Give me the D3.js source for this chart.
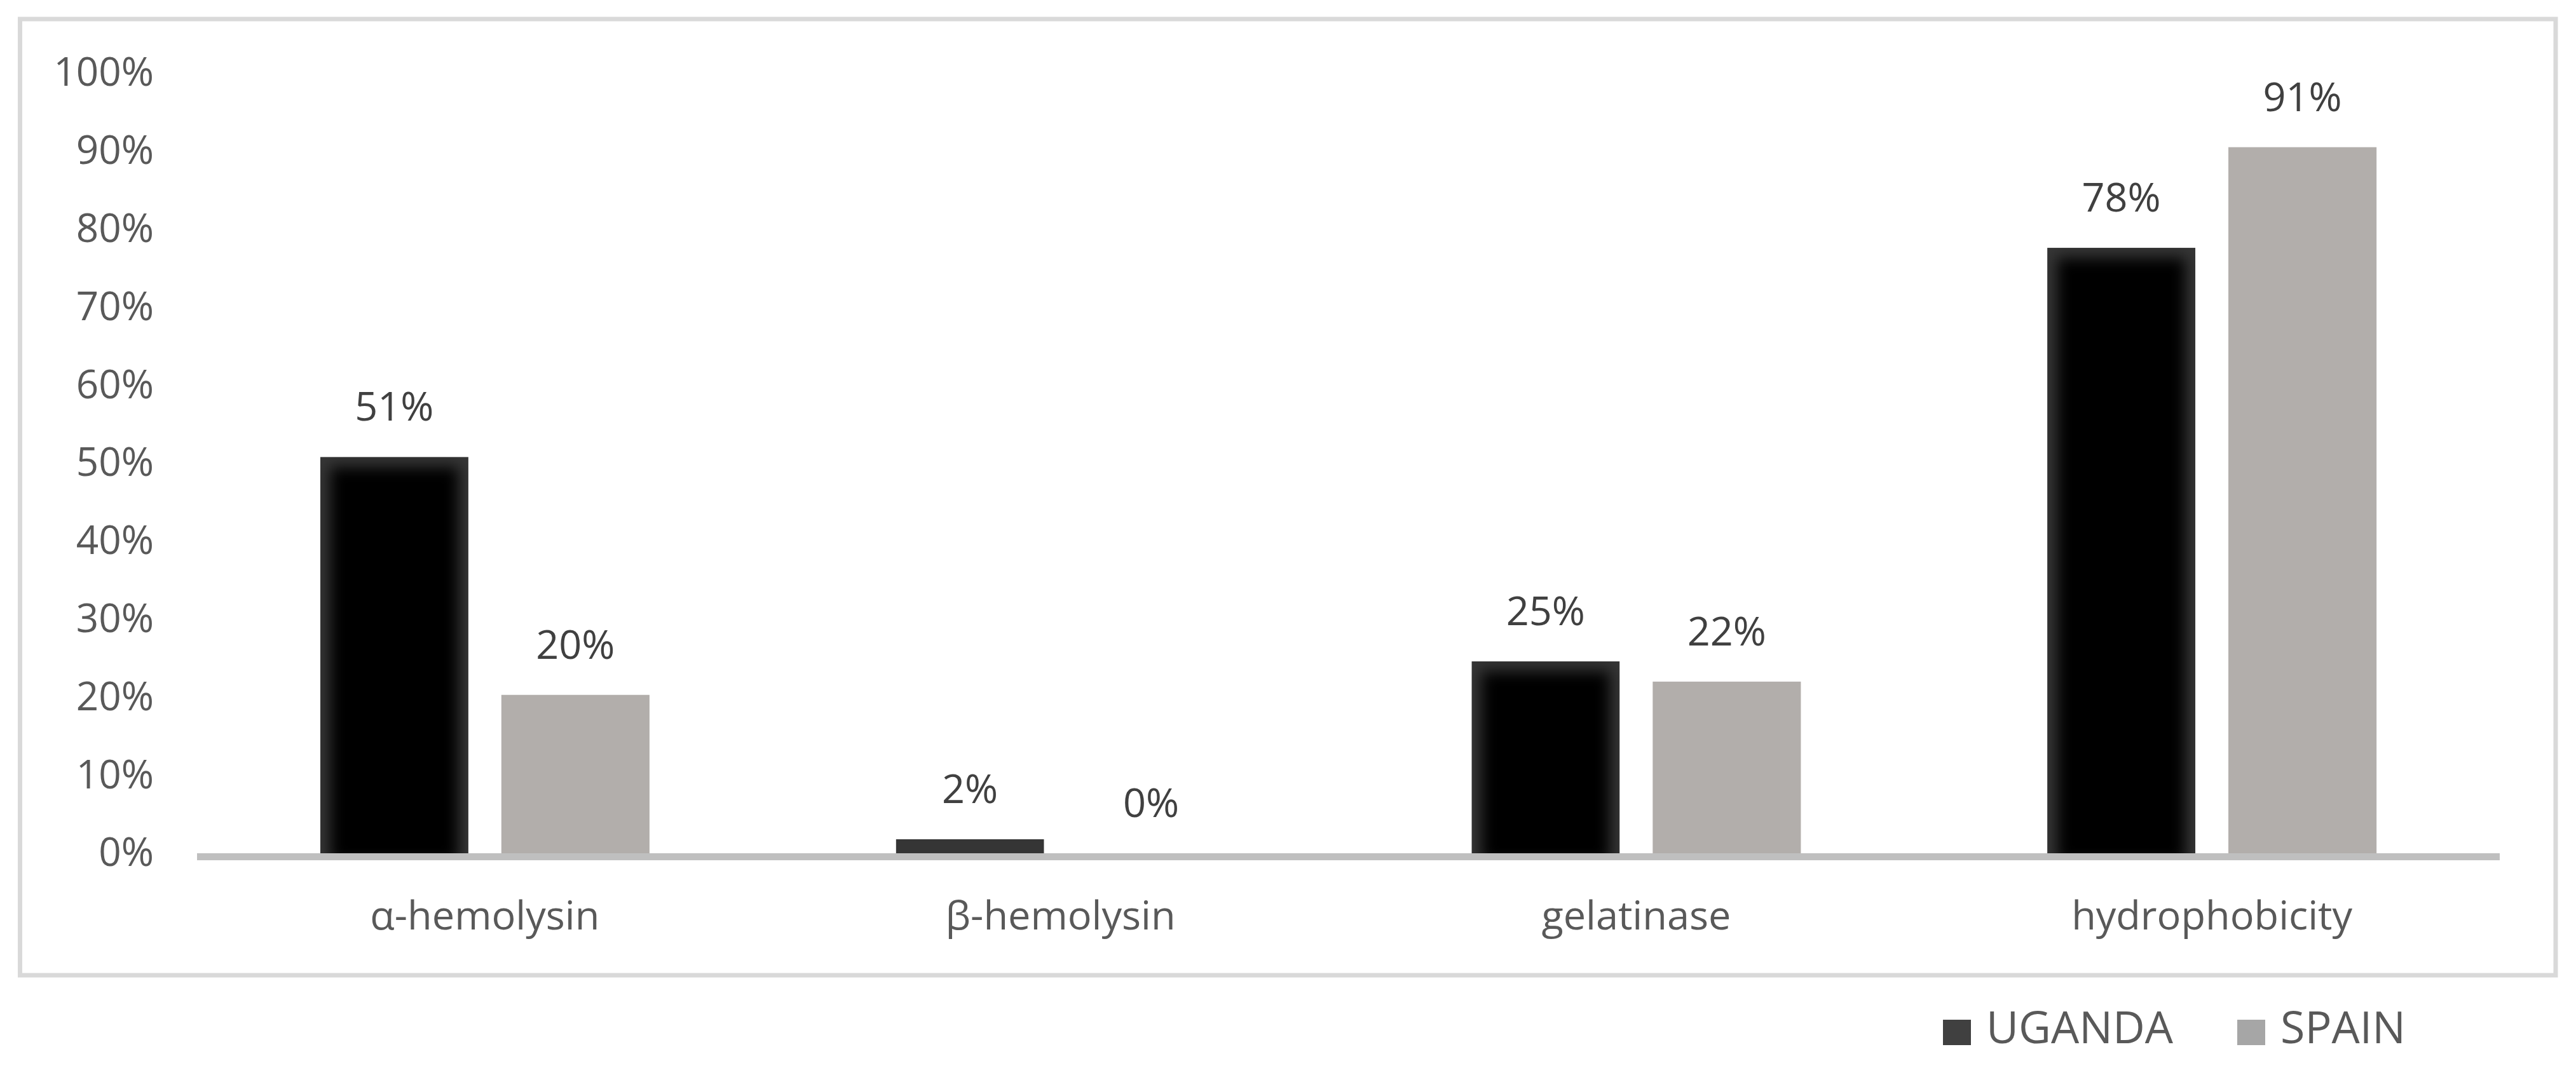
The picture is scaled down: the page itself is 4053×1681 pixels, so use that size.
<!DOCTYPE html>
<html>
<head>
<meta charset="utf-8">
<script src="https://cdn.jsdelivr.net/npm/d3@7"></script>
<style>
  html, body { margin: 0; padding: 0; background: #ffffff; }
  svg { display: block; }
  text { font-family: "Open Sans", "Noto Sans", sans-serif; }
</style>
</head>
<body>
<script>
// ---- data ----
const categories = ["α-hemolysin", "β-hemolysin", "gelatinase", "hydrophobicity"];
const seriesNames = ["UGANDA", "SPAIN"];
const ugandaValues = [50.8, 1.8, 24.6, 77.6];
const spainValues = [20.3, 0, 22.0, 90.5];
const yTicks = [0, 10, 20, 30, 40, 50, 60, 70, 80, 90, 100];

// ---- layout ----
const W = 4053, H = 1681;
const plot = { left: 310, right: 3933, top: 115, bottom: 1343 };

const svg = d3.select("body").append("svg")
  .attr("width", W).attr("height", H)
  .attr("viewBox", `0 0 ${W} ${H}`);

const defs = svg.append("defs");
defs.append("filter").attr("id", "soft")
  .attr("x", "-50%").attr("y", "-50%").attr("width", "200%").attr("height", "200%")
  .append("feGaussianBlur").attr("stdDeviation", 11);

// outer frame
svg.append("rect")
  .attr("x", 31.5).attr("y", 30).attr("width", 4021 - 31.5).attr("height", 1535 - 30)
  .attr("fill", "#ffffff").attr("stroke", "#d9d9d9").attr("stroke-width", 7);

const x0 = d3.scaleBand().domain(categories).range([plot.left, plot.right])
  .paddingInner(0.428).paddingOuter(0.214);
const x1 = d3.scaleBand().domain(seriesNames).range([0, x0.bandwidth()]).paddingInner(0.182);
const y = d3.scaleLinear().domain([0, 100]).range([plot.bottom, plot.top]);

const rows = categories.map((c, i) => ({
  cat: c,
  vals: [
    { key: "UGANDA", v: ugandaValues[i] },
    { key: "SPAIN", v: spainValues[i] }
  ]
}));

// y axis
const yAxis = svg.append("g").attr("transform", `translate(${plot.left},0)`)
  .call(d3.axisLeft(y).tickValues(yTicks).tickFormat(d => d + "%").tickSize(0).tickPadding(68));
yAxis.select(".domain").remove();
yAxis.selectAll("text").attr("font-size", 62).attr("fill", "#595959")
  .attr("font-family", "'Open Sans', sans-serif");

// bars
const groups = svg.append("g").selectAll("g").data(rows).join("g")
  .attr("transform", d => `translate(${x0(d.cat)},0)`);

groups.each(function(row, gi) {
  const g = d3.select(this);
  row.vals.forEach((d, si) => {
    const bx = x1(d.key), bw = x1.bandwidth();
    const by = y(d.v), bh = y(0) - y(d.v);
    if (bh <= 0) return;
    if (d.key === "UGANDA") {
      const id = `clip-${gi}-${si}`;
      defs.append("clipPath").attr("id", id)
        .append("rect").attr("x", x0(row.cat) + bx).attr("y", by).attr("width", bw).attr("height", bh);
      const bg = svg.append("g").attr("clip-path", `url(#${id})`);
      bg.append("rect").attr("x", x0(row.cat) + bx).attr("y", by).attr("width", bw).attr("height", bh)
        .attr("fill", "#353535");
      const inset = 16;
      if (bh > inset * 2) {
        bg.append("rect").attr("x", x0(row.cat) + bx + inset).attr("y", by + inset)
          .attr("width", bw - 2 * inset).attr("height", bh - 2 * inset + 30)
          .attr("fill", "#000000").attr("filter", "url(#soft)");
      }
    } else {
      g.append("rect").attr("x", bx).attr("y", by).attr("width", bw).attr("height", bh)
        .attr("fill", "#b2aeab");
    }
  });
});

// value labels
svg.append("g").selectAll("g").data(rows).join("g")
  .attr("transform", d => `translate(${x0(d.cat)},0)`)
  .selectAll("text").data(d => d.vals).join("text")
  .attr("x", d => x1(d.key) + x1.bandwidth() / 2)
  .attr("y", d => y(d.v) - 57)
  .attr("text-anchor", "middle")
  .attr("font-size", 63)
  .attr("fill", "#404040")
  .text(d => Math.round(d.v) + "%");

// x axis line
svg.append("rect")
  .attr("x", plot.left).attr("y", y(0)).attr("width", plot.right - plot.left).attr("height", 11)
  .attr("fill", "#bfbfbf");

// x axis labels
const xAxis = svg.append("g").attr("transform", `translate(0,${y(0)})`)
  .call(d3.axisBottom(x0).tickSize(0).tickPadding(75));
xAxis.select(".domain").remove();
xAxis.selectAll("text").attr("font-size", 63).attr("fill", "#595959")
  .attr("font-family", "'Open Sans', sans-serif");

// legend
const legendColors = { UGANDA: "#404040", SPAIN: "#a6a6a6" };
const legendX = [3057, 3520];
const leg = svg.append("g").selectAll("g").data(seriesNames).join("g")
  .attr("transform", (d, i) => `translate(${legendX[i]},1605)`);
leg.append("rect").attr("width", 44).attr("height", 40).attr("fill", d => legendColors[d]);
leg.append("text").attr("x", 68).attr("y", 37).attr("font-size", 70).attr("fill", "#595959")
  .text(d => d);
</script>
</body>
</html>
